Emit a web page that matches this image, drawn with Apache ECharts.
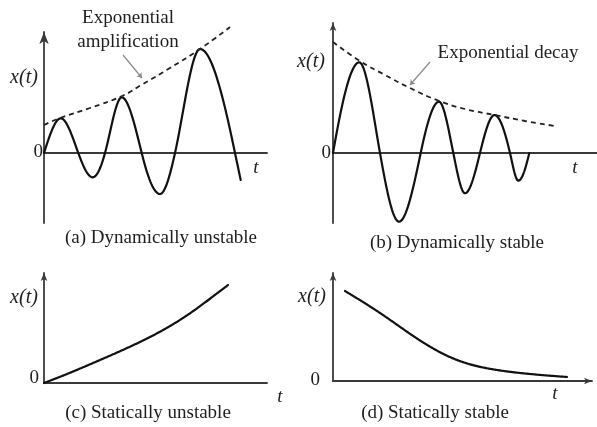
<!DOCTYPE html>
<html>
<head>
<meta charset="utf-8">
<script src="https://cdn.jsdelivr.net/npm/echarts@6/dist/echarts.min.js"></script>
<style>
  html, body { margin: 0; padding: 0; background: #ffffff; }
  #chart { width: 597px; height: 427px; }
</style>
</head>
<body>
<div id="chart"></div>
<script>
// Response x(t) for four stability cases, as [t, x] pairs (arbitrary units).
// Oscillating cases list their peaks, troughs and zero crossings.
const dynUnstable = [
  [0, 0], [1.67, 3.47], [3.43, 0], [4.87, -2.43], [6.1, 0], [7.77, 5.57],
  [9.77, 0], [11.6, -4.1], [13.1, 0], [15.6, 10.4], [19.1, 0], [19.67, -2.7]
];
const ampEnvelope = [
  [0, 2.8], [1.6, 3.5], [4.6, 4.5], [7.8, 5.7], [9.9, 6.9],
  [12.6, 8.5], [15.6, 10.4], [18.6, 12.6]
];
const dynStable = [
  [0, 0], [2.63, 9.07], [4.7, 0], [6.6, -6.87], [8.77, 0], [10.6, 5.13],
  [12.03, 0], [13.2, -4.03], [14.7, 0], [16.15, 3.8], [17.7, 0],
  [18.53, -2.77], [19.63, 0]
];
const decayEnvelope = [
  [0, 11.1], [2.7, 9.2], [5.2, 7.8], [7.7, 6.5], [10.5, 5.25],
  [13.2, 4.4], [16.15, 3.8], [19.2, 3.2], [22.2, 2.7]
];
const statUnstable = [
  [0, 0], [2.3, 0.9], [5.6, 2.3], [10.6, 4.6], [13.9, 6.5], [16.3, 8.2], [18.4, 9.8]
];
const statStable = [
  [1.2, 9.0], [4.7, 6.8], [9.1, 3.8], [12.4, 2.1], [16.4, 1.1], [19.7, 0.7], [23.4, 0.4]
];

// Axis extents per panel: [tMax, xMin, xMax]
const panelRanges = [
  [22.3, -7.0, 12.1],
  [26.4, -7.0, 13.0],
  [22.3, 0, 11.0],
  [25.9, 0, 10.8]
];

// Text labels
const yLabel = 'x(t)';
const xLabel = 't';
const zeroLabel = '0';
const captions = [
  '(a) Dynamically unstable',
  '(b) Dynamically stable',
  '(c) Statically unstable',
  '(d) Statically stable'
];
const ampNote = ['Exponential', 'amplification'];
const decayNote = 'Exponential decay';

const SERIF = '"Liberation Serif", "Times New Roman", serif';
const INK = '#1e1e1e';
const AXIS = '#3a3a3a';

const grids = [
  { left: 44, top: 32, width: 223, height: 191 },
  { left: 333, top: 23, width: 264, height: 200 },
  { left: 44, top: 273, width: 223, height: 110 },
  { left: 333, top: 273, width: 259, height: 108 }
];

const xArrow = [false, false, false, true];
const yArrowSize = [[7, 12], [5, 8], [5, 8], [5, 8]];

const xAxes = panelRanges.map((r, i) => ({
  type: 'value', gridIndex: i, min: 0, max: r[0],
  axisLine: {
    show: true, onZero: true,
    symbol: xArrow[i] ? ['none', 'arrow'] : 'none',
    symbolSize: [5, 8],
    lineStyle: { color: AXIS, width: 1.8 }
  },
  axisTick: { show: false }, axisLabel: { show: false }, splitLine: { show: false }
}));

const yAxes = panelRanges.map((r, i) => ({
  type: 'value', gridIndex: i, min: r[1], max: r[2],
  axisLine: {
    show: true, onZero: false,
    symbol: ['none', 'arrow'],
    symbolSize: yArrowSize[i],
    lineStyle: { color: AXIS, width: 1.8 }
  },
  axisTick: { show: false }, axisLabel: { show: false }, splitLine: { show: false }
}));

// Smooth curve through pixel points (x increasing): slopes from a natural cubic
// spline, flattened at local peaks/troughs so they stay at the listed values,
// then drawn as cubic Hermite segments sampled into a polyline.
function spline(pts) {
  const n = pts.length;
  const xs = pts.map(p => p[0]), ys = pts.map(p => p[1]);
  const h = [];
  for (let i = 0; i < n - 1; i++) h.push(xs[i + 1] - xs[i]);
  const M = new Array(n).fill(0);
  if (n > 2) {
    const a = [], b = [], c = [], d = [];
    for (let i = 1; i < n - 1; i++) {
      a.push(h[i - 1]);
      b.push(2 * (h[i - 1] + h[i]));
      c.push(h[i]);
      d.push(6 * ((ys[i + 1] - ys[i]) / h[i] - (ys[i] - ys[i - 1]) / h[i - 1]));
    }
    const m = b.length;
    for (let i = 1; i < m; i++) {
      const w = a[i] / b[i - 1];
      b[i] -= w * c[i - 1];
      d[i] -= w * d[i - 1];
    }
    const sol = new Array(m);
    sol[m - 1] = d[m - 1] / b[m - 1];
    for (let i = m - 2; i >= 0; i--) sol[i] = (d[i] - c[i] * sol[i + 1]) / b[i];
    for (let i = 0; i < m; i++) M[i + 1] = sol[i];
  }
  const slope = new Array(n);
  for (let i = 0; i < n; i++) {
    if (i < n - 1) {
      slope[i] = (ys[i + 1] - ys[i]) / h[i] - h[i] * (2 * M[i] + M[i + 1]) / 6;
    } else {
      slope[i] = (ys[i] - ys[i - 1]) / h[i - 1] + h[i - 1] * (M[i - 1] + 2 * M[i]) / 6;
    }
    if (i > 0 && i < n - 1 && (ys[i] - ys[i - 1]) * (ys[i + 1] - ys[i]) < 0) slope[i] = 0;
  }
  const out = [];
  for (let i = 0; i < n - 1; i++) {
    const steps = Math.max(4, Math.ceil(Math.abs(h[i])));
    for (let s = (i === 0 ? 0 : 1); s <= steps; s++) {
      const u = s / steps;
      const h00 = 2 * u * u * u - 3 * u * u + 1, h10 = u * u * u - 2 * u * u + u;
      const h01 = -2 * u * u * u + 3 * u * u, h11 = u * u * u - u * u;
      out.push([
        xs[i] + h[i] * u,
        h00 * ys[i] + h10 * h[i] * slope[i] + h01 * ys[i + 1] + h11 * h[i] * slope[i + 1]
      ]);
    }
  }
  return out;
}

function curve(data, i) {
  return {
    type: 'custom', coordinateSystem: 'cartesian2d',
    xAxisIndex: i, yAxisIndex: i, silent: true, clip: false,
    data: [data[0]],
    encode: { x: 0, y: 1 },
    renderItem: function (params, api) {
      const pts = data.map(p => api.coord(p));
      return {
        type: 'polyline',
        shape: { points: spline(pts) },
        style: { stroke: '#111', lineWidth: 2.2, fill: null, lineJoin: 'round', lineCap: 'round' }
      };
    }
  };
}

function envelope(data, i) {
  return {
    type: 'line', xAxisIndex: i, yAxisIndex: i, data: data,
    smooth: 0.5, showSymbol: false, clip: false, silent: true,
    lineStyle: { color: '#222', width: 1.8, type: [5, 4] }
  };
}

function leader(from, to) {
  return {
    silent: true,
    symbol: ['none', 'arrow'],
    symbolSize: 5,
    label: { show: false },
    lineStyle: { color: '#8a8a8a', width: 1.2, type: 'solid' },
    data: [[{ coord: from }, { coord: to }]]
  };
}

const ampSeries = envelope(ampEnvelope, 0);
ampSeries.markLine = leader([7.9, 9.8], [9.8, 7.5]);
const decaySeries = envelope(decayEnvelope, 1);
decaySeries.markLine = leader([9.7, 9.1], [7.7, 6.8]);

function txt(s, x, y, opts) {
  opts = opts || {};
  return {
    type: 'text', silent: true,
    style: {
      text: s, x: x, y: y,
      font: (opts.italic ? 'italic ' : '') + (opts.size || 19) + 'px ' + SERIF,
      fill: INK,
      textAlign: opts.align || 'center',
      textVerticalAlign: 'middle'
    }
  };
}

const graphics = [
  // panel (a)
  txt(ampNote[0], 128, 18),
  txt(ampNote[1], 128, 42),
  txt(yLabel, 24, 78, { italic: true, size: 20 }),
  txt(zeroLabel, 43, 152, { align: 'right' }),
  txt(xLabel, 256, 168, { italic: true }),
  txt(captions[0], 161, 238),
  // panel (b)
  txt(decayNote, 508, 53),
  txt(yLabel, 311, 62, { italic: true, size: 20 }),
  txt(zeroLabel, 331, 153, { align: 'right' }),
  txt(xLabel, 575, 168, { italic: true }),
  txt(captions[1], 457, 243),
  // panel (c)
  txt(yLabel, 24, 298, { italic: true, size: 20 }),
  txt(zeroLabel, 39, 378, { align: 'right' }),
  txt(xLabel, 280, 397, { italic: true }),
  txt(captions[2], 148, 413),
  // panel (d)
  txt(yLabel, 312, 297, { italic: true, size: 20 }),
  txt(zeroLabel, 320, 380, { align: 'right' }),
  txt(xLabel, 555, 394, { italic: true }),
  txt(captions[3], 435, 413)
];

const chart = echarts.init(document.getElementById('chart'), null, { renderer: 'canvas' });
chart.setOption({
  animation: false,
  backgroundColor: '#ffffff',
  grid: grids,
  xAxis: xAxes,
  yAxis: yAxes,
  series: [
    curve(dynUnstable, 0),
    ampSeries,
    curve(dynStable, 1),
    decaySeries,
    curve(statUnstable, 2),
    curve(statStable, 3)
  ],
  graphic: graphics
});
</script>
</body>
</html>
